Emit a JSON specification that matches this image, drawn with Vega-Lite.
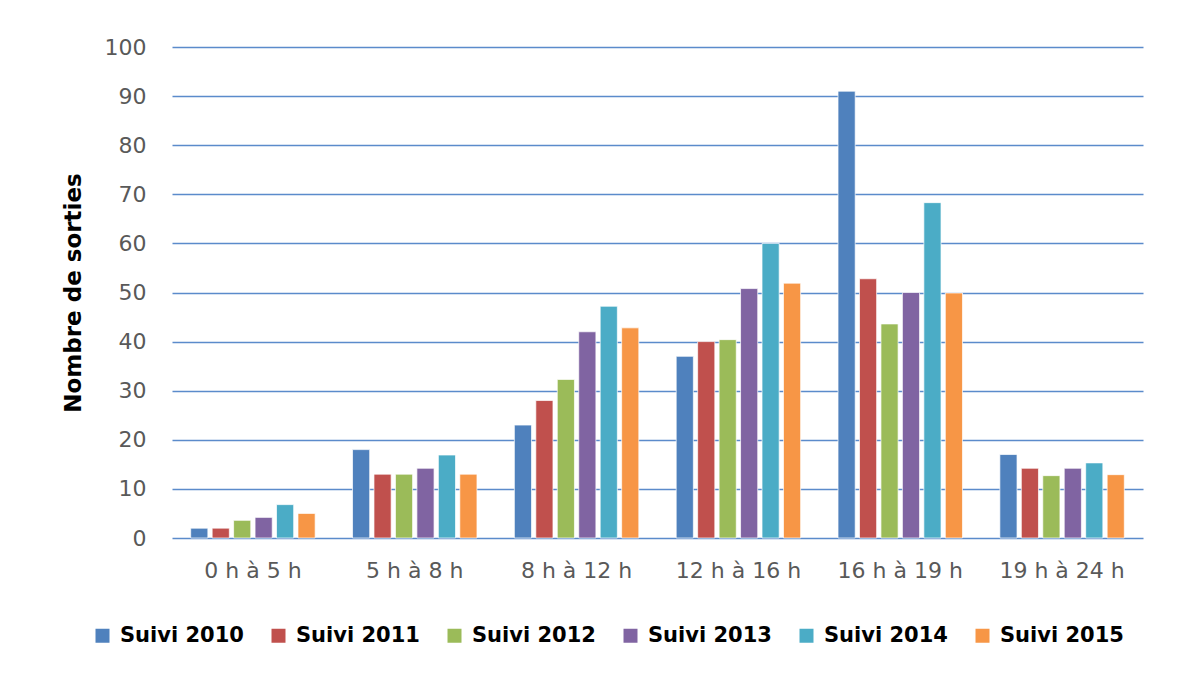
{
  "$schema": "https://vega.github.io/schema/vega-lite/v6.json",
  "width": 971,
  "height": 491,
  "autosize": {"type": "none"},
  "padding": {"left": 172, "top": 47, "right": 37, "bottom": 136},
  "background": "white",
  "data": {
    "values": [
      {"tranche": "0 h à 5 h", "serie": "Suivi 2010", "sorties": 2},
      {"tranche": "0 h à 5 h", "serie": "Suivi 2011", "sorties": 2},
      {"tranche": "0 h à 5 h", "serie": "Suivi 2012", "sorties": 3.6},
      {"tranche": "0 h à 5 h", "serie": "Suivi 2013", "sorties": 4.2},
      {"tranche": "0 h à 5 h", "serie": "Suivi 2014", "sorties": 6.8},
      {"tranche": "0 h à 5 h", "serie": "Suivi 2015", "sorties": 5},
      {"tranche": "5 h à 8 h", "serie": "Suivi 2010", "sorties": 18},
      {"tranche": "5 h à 8 h", "serie": "Suivi 2011", "sorties": 13},
      {"tranche": "5 h à 8 h", "serie": "Suivi 2012", "sorties": 13},
      {"tranche": "5 h à 8 h", "serie": "Suivi 2013", "sorties": 14.2},
      {"tranche": "5 h à 8 h", "serie": "Suivi 2014", "sorties": 16.9},
      {"tranche": "5 h à 8 h", "serie": "Suivi 2015", "sorties": 13},
      {"tranche": "8 h à 12 h", "serie": "Suivi 2010", "sorties": 23},
      {"tranche": "8 h à 12 h", "serie": "Suivi 2011", "sorties": 28},
      {"tranche": "8 h à 12 h", "serie": "Suivi 2012", "sorties": 32.3},
      {"tranche": "8 h à 12 h", "serie": "Suivi 2013", "sorties": 42},
      {"tranche": "8 h à 12 h", "serie": "Suivi 2014", "sorties": 47.2},
      {"tranche": "8 h à 12 h", "serie": "Suivi 2015", "sorties": 42.8},
      {"tranche": "12 h à 16 h", "serie": "Suivi 2010", "sorties": 37},
      {"tranche": "12 h à 16 h", "serie": "Suivi 2011", "sorties": 40},
      {"tranche": "12 h à 16 h", "serie": "Suivi 2012", "sorties": 40.4},
      {"tranche": "12 h à 16 h", "serie": "Suivi 2013", "sorties": 50.8},
      {"tranche": "12 h à 16 h", "serie": "Suivi 2014", "sorties": 60},
      {"tranche": "12 h à 16 h", "serie": "Suivi 2015", "sorties": 51.9},
      {"tranche": "16 h à 19 h", "serie": "Suivi 2010", "sorties": 91},
      {"tranche": "16 h à 19 h", "serie": "Suivi 2011", "sorties": 52.8},
      {"tranche": "16 h à 19 h", "serie": "Suivi 2012", "sorties": 43.6},
      {"tranche": "16 h à 19 h", "serie": "Suivi 2013", "sorties": 50},
      {"tranche": "16 h à 19 h", "serie": "Suivi 2014", "sorties": 68.3},
      {"tranche": "16 h à 19 h", "serie": "Suivi 2015", "sorties": 49.9},
      {"tranche": "19 h à 24 h", "serie": "Suivi 2010", "sorties": 17},
      {"tranche": "19 h à 24 h", "serie": "Suivi 2011", "sorties": 14.2},
      {"tranche": "19 h à 24 h", "serie": "Suivi 2012", "sorties": 12.7},
      {"tranche": "19 h à 24 h", "serie": "Suivi 2013", "sorties": 14.2},
      {"tranche": "19 h à 24 h", "serie": "Suivi 2014", "sorties": 15.3},
      {"tranche": "19 h à 24 h", "serie": "Suivi 2015", "sorties": 12.9}
    ]
  },
  "mark": {"type": "bar", "stroke": "white", "strokeWidth": 1, "strokeOpacity": 0.7},
  "encoding": {
    "x": {
      "field": "tranche",
      "type": "nominal",
      "sort": ["0 h à 5 h", "5 h à 8 h", "8 h à 12 h", "12 h à 16 h", "16 h à 19 h", "19 h à 24 h"],
      "scale": {"paddingInner": 0.231, "paddingOuter": 0.1155},
      "axis": {
        "title": null,
        "labelAngle": 0,
        "labelFont": "DejaVu Sans",
        "labelFontSize": 22,
        "labelColor": "#595959",
        "labelPadding": 22,
        "ticks": false,
        "domain": false,
        "grid": false
      }
    },
    "xOffset": {
      "field": "serie",
      "type": "nominal",
      "scale": {"paddingInner": 0.2, "paddingOuter": 0}
    },
    "y": {
      "field": "sorties",
      "type": "quantitative",
      "scale": {"domain": [0, 100], "nice": false},
      "axis": {
        "title": "Nombre de sorties",
        "titleFont": "DejaVu Sans",
        "titleFontSize": 23,
        "titleFontWeight": "bold",
        "titleColor": "black",
        "titlePadding": 19,
        "values": [0, 10, 20, 30, 40, 50, 60, 70, 80, 90, 100],
        "labelFont": "DejaVu Sans",
        "labelFontSize": 22,
        "labelColor": "#595959",
        "labelPadding": 26,
        "ticks": false,
        "domain": false,
        "grid": true,
        "gridColor": "#5B8BCB",
        "gridWidth": 1.4
      }
    },
    "color": {
      "field": "serie",
      "type": "nominal",
      "scale": {
        "domain": ["Suivi 2010", "Suivi 2011", "Suivi 2012", "Suivi 2013", "Suivi 2014", "Suivi 2015"],
        "range": ["#4F81BD", "#C0504D", "#9BBB59", "#8064A2", "#4BACC6", "#F79646"]
      },
      "legend": {
        "title": null,
        "orient": "none",
        "direction": "horizontal",
        "legendX": -80,
        "legendY": 578,
        "columns": 6,
        "columnPadding": 24,
        "padding": 0,
        "symbolType": "square",
        "symbolSize": 196,
        "symbolStrokeWidth": 0,
        "labelFont": "DejaVu Sans",
        "labelFontSize": 21,
        "labelFontWeight": "bold",
        "labelColor": "black",
        "labelOffset": 7
      }
    }
  },
  "config": {
    "view": {"stroke": null}
  }
}
